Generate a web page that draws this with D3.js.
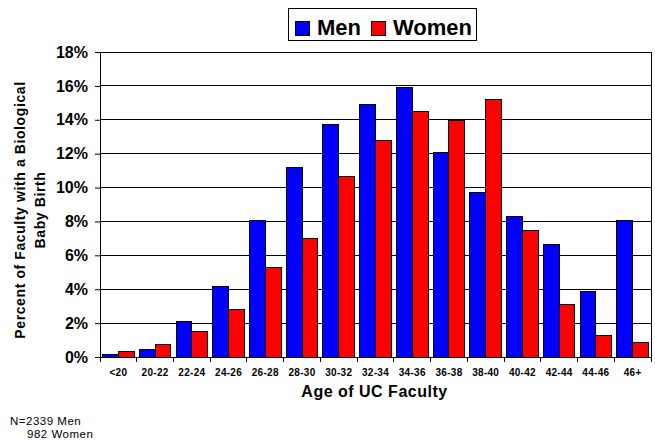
<!DOCTYPE html>
<html>
<head>
<meta charset="utf-8">
<script src="https://cdn.jsdelivr.net/npm/d3@7"></script>
<style>
  body { margin: 0; background: #fff; }
  text { font-family: "Liberation Sans", Arial, sans-serif; }
</style>
</head>
<body>
<div id="chart"></div>
<script>
// age bands and percent of faculty with a baby birth
const ageGroups = ["<20", "20-22", "22-24", "24-26", "26-28", "28-30", "30-32", "32-34", "34-36", "36-38", "38-40", "40-42", "42-44", "44-46", "46+"];
const menValues = [0.17, 0.47, 2.08, 4.19, 8.03, 11.17, 13.74, 14.93, 15.92, 12.08, 9.68, 8.30, 6.63, 3.84, 8.03];
const womenValues = [0.33, 0.73, 1.53, 2.79, 5.29, 6.98, 10.64, 12.79, 14.50, 13.93, 15.19, 7.44, 3.11, 1.24, 0.85];
const seriesNames = ["Men", "Women"];
const yTicks = [0, 2, 4, 6, 8, 10, 12, 14, 16, 18];

const width = 655, height = 440;
const margin = {top: 52, right: 4, bottom: 83, left: 100};
const plotW = width - margin.left - margin.right;
const plotH = height - margin.top - margin.bottom;

const svg = d3.select("#chart").append("svg")
    .attr("width", width)
    .attr("height", height);

const g = svg.append("g")
    .attr("transform", "translate(" + margin.left + "," + margin.top + ")");

const x = d3.scaleBand().domain(ageGroups).range([0, plotW]).paddingInner(0).paddingOuter(0);
const xInner = d3.scaleBand().domain(seriesNames).range([x.bandwidth() * 0.07, x.bandwidth() * 0.93]);
const y = d3.scaleLinear().domain([0, 18]).range([plotH, 0]);
const color = d3.scaleOrdinal().domain(seriesNames).range(["#0000ff", "#ff0000"]);

// gridlines
g.selectAll(".grid").data(yTicks.slice(1)).enter()
    .append("line")
    .attr("x1", 0).attr("x2", plotW)
    .attr("y1", d => y(d)).attr("y2", d => y(d))
    .attr("stroke", "#000").attr("stroke-width", 1)
    .attr("shape-rendering", "crispEdges");

// right border of plot area
g.append("line")
    .attr("x1", plotW).attr("x2", plotW)
    .attr("y1", 0).attr("y2", plotH)
    .attr("stroke", "#000")
    .attr("shape-rendering", "crispEdges");

// bars
const rows = ageGroups.map((a, i) => ({age: a, vals: [
    {name: "Men", v: menValues[i]},
    {name: "Women", v: womenValues[i]}
]}));

g.selectAll(".grp").data(rows).enter()
    .append("g")
    .attr("transform", d => "translate(" + x(d.age) + ",0)")
    .selectAll("rect")
    .data(d => d.vals).enter()
    .append("rect")
    .attr("x", d => xInner(d.name))
    .attr("y", d => y(d.v))
    .attr("width", xInner.bandwidth())
    .attr("height", d => plotH - y(d.v))
    .attr("fill", d => color(d.name))
    .attr("stroke", "#000")
    .attr("stroke-width", 1)
    .attr("shape-rendering", "crispEdges");

// y axis
const yAxis = g.append("g")
    .call(d3.axisLeft(y).tickValues(yTicks).tickFormat(d => d + "%").tickSize(5).tickSizeOuter(0));
yAxis.select(".domain").attr("stroke", "#000");
yAxis.selectAll("text")
    .style("font-size", "16px").style("font-weight", "bold")
    .attr("x", -12);

// x axis, ticks at category boundaries
const xAxisG = g.append("g").attr("transform", "translate(0," + plotH + ")");
xAxisG.append("line").attr("x1", 0).attr("x2", plotW)
    .attr("stroke", "#000").attr("shape-rendering", "crispEdges");
xAxisG.selectAll(".tk").data(ageGroups.concat(["end"])).enter()
    .append("line")
    .attr("x1", (d, i) => i * x.step()).attr("x2", (d, i) => i * x.step())
    .attr("y1", 0).attr("y2", 5)
    .attr("stroke", "#000").attr("shape-rendering", "crispEdges");
xAxisG.selectAll(".lbl").data(ageGroups).enter()
    .append("text")
    .attr("x", d => x(d) + x.bandwidth() / 2)
    .attr("y", 19)
    .attr("text-anchor", "middle")
    .style("font-size", "10px").style("font-weight", "bold")
    .style("letter-spacing", "0.3px")
    .text(d => d);

// axis titles
svg.append("text")
    .attr("x", margin.left + plotW / 2 - 1)
    .attr("y", 397)
    .attr("text-anchor", "middle")
    .style("font-size", "16px").style("font-weight", "bold")
    .style("letter-spacing", "0.5px")
    .text("Age of UC Faculty");

const yTitle = svg.append("text")
    .attr("transform", "translate(25,210) rotate(-90)")
    .attr("text-anchor", "middle")
    .style("font-size", "14px").style("font-weight", "bold")
    .style("letter-spacing", "0.6px");
yTitle.append("tspan").attr("x", 0).attr("dy", 0).text("Percent of Faculty with a Biological");
yTitle.append("tspan").attr("x", 0).attr("dy", 20).text("Baby Birth");

// legend
const legend = svg.append("g").attr("transform", "translate(288,8)");
legend.append("rect")
    .attr("width", 188).attr("height", 32)
    .attr("fill", "#fff").attr("stroke", "#000")
    .attr("shape-rendering", "crispEdges");
const legendPos = [7, 83];
seriesNames.forEach((s, i) => {
    legend.append("rect")
        .attr("x", legendPos[i]).attr("y", 13)
        .attr("width", 14).attr("height", 14)
        .attr("fill", color(s)).attr("stroke", "#000")
        .attr("shape-rendering", "crispEdges");
    legend.append("text")
        .attr("x", legendPos[i] + 22).attr("y", 27)
        .style("font-size", "22px").style("font-weight", "bold")
        .text(s);
});

// footnote
svg.append("text").attr("x", 10).attr("y", 425)
    .style("font-size", "11.5px").style("letter-spacing", "0.5px").text("N=2339 Men");
svg.append("text").attr("x", 27).attr("y", 438)
    .style("font-size", "11.5px").style("letter-spacing", "0.5px").text("982 Women");
</script>
</body>
</html>
